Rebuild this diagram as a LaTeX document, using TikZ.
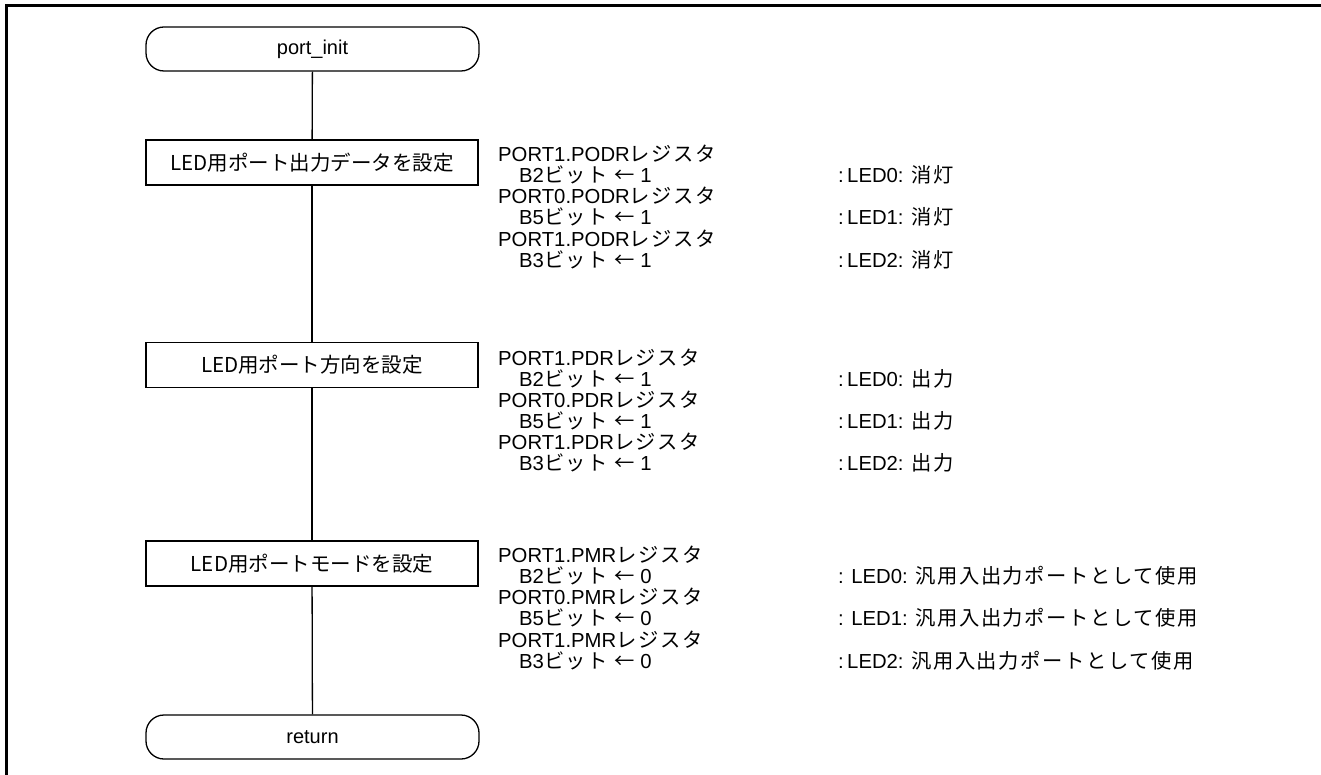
\documentclass[tikz,border=0pt]{standalone}
\usepackage{fontspec}
\setmainfont{Liberation Sans}
\newfontfamily\jp{Noto Sans CJK JP}
\newfontfamily\jps{Noto Sans CJK JP}[LetterSpace=8]
\begin{document}
\begin{tikzpicture}[x=1pt,y=-1pt,
  term/.style={draw, line width=1.3pt, rounded corners=18pt, minimum width=333pt, minimum height=44pt, inner sep=0pt, font=\fontsize{20}{20}\selectfont},
  proc/.style={draw, line width=1.3pt, minimum width=332pt, minimum height=45pt, inner sep=0pt, font=\jp\fontsize{20.5}{21}\selectfont},
  txt/.style={anchor=base west, inner sep=0pt, font=\fontsize{20.3}{21}\selectfont},
  conn/.style={line width=1.3pt}]
\useasboundingbox (0,0) rectangle (1321,775);
\draw[line width=2.6pt] (6.5,775) -- (6.5,5.5) -- (1321,5.5);

\node[term] (start) at (312.5,49) {port\_init};
\node[proc] (p1) at (312,162.5) {LED用ポート出力データを設定};
\node[proc] (p2) at (312,365) {LED用ポート方向を設定};
\node[proc] (p3) at (312,563.5) {LED用ポートモードを設定};
\node[term] (end) at (312.5,737) {return};
\draw[conn] (start) -- (p1);
\draw[conn] (p1) -- (p2);
\draw[conn] (p2) -- (p3);
\draw[conn] (p3) -- (end);

% group 1
\node[txt] (a1) at (498,162) {PORT1.PODR{\jps レジスタ}};
\node[txt] (a2) at (519,183) {B2{\jps ビット ←} 1};
\node[txt] (a3) at (498,204) {PORT0.PODR{\jps レジスタ}};
\node[txt] (a4) at (519,225) {B5{\jps ビット ←} 1};
\node[txt] (a5) at (498,247) {PORT1.PODR{\jps レジスタ}};
\node[txt] (a6) at (519,268) {B3{\jps ビット ←} 1};
\node[txt] (ac1) at (838,183) {:\,LED0: {\jps 消灯}};
\node[txt] (ac2) at (838,225) {:\,LED1: {\jps 消灯}};
\node[txt] (ac3) at (838,268) {:\,LED2: {\jps 消灯}};

% group 2
\node[txt] (b1) at (498,365) {PORT1.PDR{\jps レジスタ}};
\node[txt] (b2) at (519,386) {B2{\jps ビット ←} 1};
\node[txt] (b3) at (498,407) {PORT0.PDR{\jps レジスタ}};
\node[txt] (b4) at (519,428) {B5{\jps ビット ←} 1};
\node[txt] (b5) at (498,449) {PORT1.PDR{\jps レジスタ}};
\node[txt] (b6) at (519,470) {B3{\jps ビット ←} 1};
\node[txt] (bc1) at (838,386) {:\,LED0: {\jps 出力}};
\node[txt] (bc2) at (838,428) {:\,LED1: {\jps 出力}};
\node[txt] (bc3) at (838,470) {:\,LED2: {\jps 出力}};

% group 3
\node[txt] (c1) at (498,562) {PORT1.PMR{\jps レジスタ}};
\node[txt] (c2) at (519,583) {B2{\jps ビット ←} 0};
\node[txt] (c3) at (498,604) {PORT0.PMR{\jps レジスタ}};
\node[txt] (c4) at (519,625) {B5{\jps ビット ←} 0};
\node[txt] (c5) at (498,647) {PORT1.PMR{\jps レジスタ}};
\node[txt] (c6) at (519,668) {B3{\jps ビット ←} 0};
\node[txt] (cc1) at (838,583) {: LED0: {\jps 汎用入出力ポートとして使用}};
\node[txt] (cc2) at (838,625) {: LED1: {\jps 汎用入出力ポートとして使用}};
\node[txt] (cc3) at (838,668) {:\,LED2: {\jps 汎用入出力ポートとして使用}};
\end{tikzpicture}
\end{document}
